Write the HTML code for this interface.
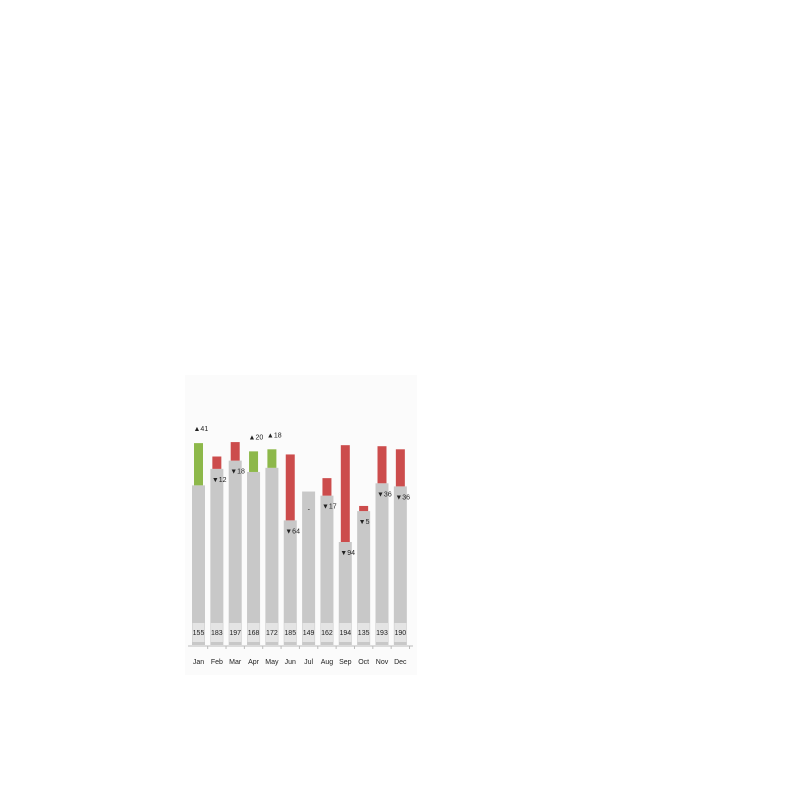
<!DOCTYPE html>
<html><head><meta charset="utf-8"><style>
body{margin:0;background:#fff;width:800px;height:800px;overflow:hidden}
svg{position:absolute;left:0;top:0}
text{font-family:"Liberation Sans",sans-serif;font-size:7px;fill:#222}
</style></head><body>
<svg id="chart" width="800" height="800">
<rect x="185" y="375" width="232" height="300" fill="#fbfbfb"/>
</svg>
<script>
const months=["Jan","Feb","Mar","Apr","May","Jun","Jul","Aug","Sep","Oct","Nov","Dec"];
const values=[155,183,197,168,172,185,149,162,194,135,193,190];
const deltas=[41,-12,-18,20,18,-64,0,-17,-94,-5,-36,-36];
const svg=document.getElementById('chart');
const NS="http://www.w3.org/2000/svg";
const base=645, k=1.03, x0=198.5, pitch=18.35;
const y=v=>base-v*k;
const xc=i=>x0+i*pitch;
function mk(t,a){const e=document.createElementNS(NS,t);for(const n in a)e.setAttribute(n,a[n]);svg.appendChild(e);return e;}
const ax=mk('line',{x1:188,x2:413,y1:base+1,y2:base+1,stroke:'#bbb','stroke-width':1});


months.forEach((m,i)=>{
  const v=values[i],d=deltas[i],c=xc(i);
  const gTop=d<0?v+d:v;
  const g=mk('rect',{x:c-6.5,y:y(gTop),width:13,height:base-y(gTop),fill:'#c8c8c8'});
  
  
  if(d!==0){
    const lo=d<0?v+d:v, hi=d<0?v:v+d;
    const r=mk('rect',{x:c-4.5,y:y(hi),width:9,height:y(lo)-y(hi),fill:d<0?'#cc4c4c':'#8db84a'});
    
    
  }
  let t;
  if(d>0){t=mk('text',{x:c-5,y:y(v+d)-12});t.textContent='▲'+d;}
  else if(d<0){t=mk('text',{x:c-5,y:y(v+d)+13});t.textContent='▼'+(-d);}
  else{t=mk('text',{x:c-1,y:y(v)+20});t.textContent='-';}
  
  
  const b=mk('rect',{x:c-6,y:base-22,width:12,height:19,fill:'#e4e4e4'});
  
  
  const vt=mk('text',{x:c,y:base-10,'text-anchor':'middle'});vt.textContent=v;
  
  
  const tk=mk('line',{x1:c+pitch/2,x2:c+pitch/2,y1:base+1,y2:base+4,stroke:'#bbb'});
  
  
  const mt=mk('text',{x:c,y:664,'text-anchor':'middle'});mt.textContent=m;
  
  
});
</script>
</body></html>
